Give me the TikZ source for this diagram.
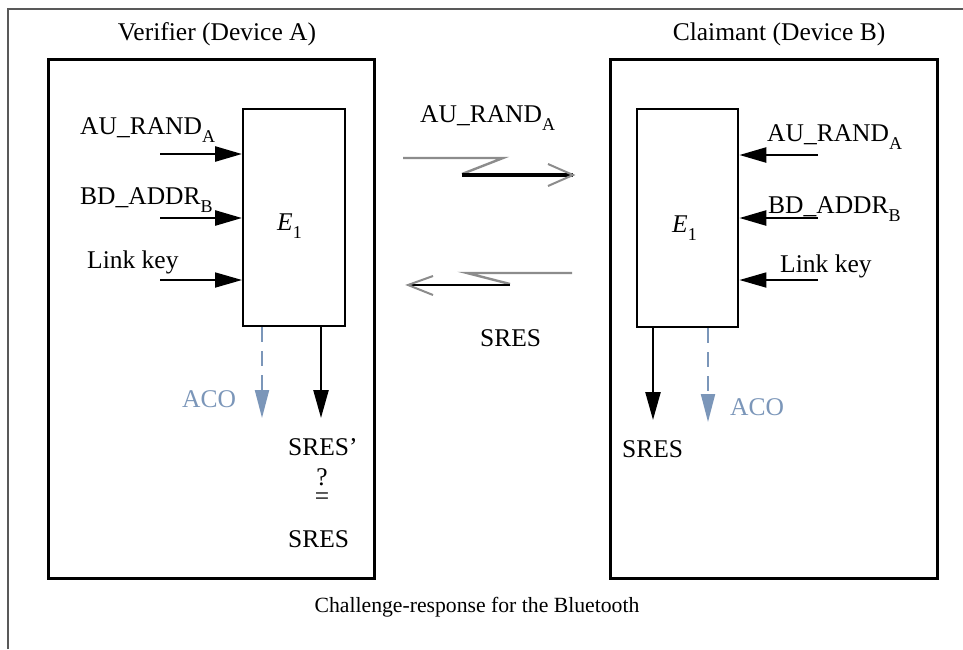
\documentclass[tikz,border=0pt]{standalone}
\usepackage{fontspec}
\setmainfont{Liberation Serif}
\usetikzlibrary{arrows.meta}
\definecolor{acoblue}{HTML}{7B96B9}
\newcommand\sbx[1]{\raisebox{-0.32em}{\fontsize{18}{18}\selectfont #1}}
\begin{document}
\begin{tikzpicture}[x=1pt,y=-1pt,
  lbl/.style={font=\fontsize{25.5}{30}\selectfont, inner sep=0pt, anchor=base west},
  acolbl/.style={lbl, text=acoblue},
  capt/.style={font=\fontsize{21.7}{26}\selectfont, inner sep=0pt, anchor=base},
  devbox/.style={draw, line width=2.6pt, anchor=north west, inner sep=0pt, minimum width=#1},
  ebox/.style={draw, line width=2.4pt, anchor=north west, inner sep=0pt, minimum width=#1},
  inarr/.style={line width=2.6pt, -{Triangle[length=27pt,width=15pt]}},
  inarrthin/.style={line width=1.8pt, -{Triangle[length=27pt,width=15pt]}},
  outarr/.style={line width=2.4pt, -{Triangle[length=28pt,width=15pt]}},
  acoarr/.style={draw=acoblue, line width=2pt, dash pattern=on 15pt off 9pt, -{Triangle[length=28pt,width=14pt]}},
  gline/.style={draw=black!45, line width=2.4pt},
  bline/.style={draw=black, line width=3.2pt},
  framel/.style={draw=black!65, line width=1.4pt}
]
\useasboundingbox (0,0) rectangle (963,649);
\fill[white] (0,0) rectangle (963,649);
\draw[framel] (8,649) -- (8,9) -- (963,9);

% titles
\node[lbl, anchor=base] (tA) at (217,40) {Verifier (Device A)};
\node[lbl, anchor=base] (tB) at (779,40) {Claimant (Device B)};

% device boxes
\node[devbox=326pt, minimum height=519pt] (devA) at (47,58) {};
\node[devbox=327pt, minimum height=519pt] (devB) at (609,58) {};

% E1 boxes
\node[ebox=102pt, minimum height=217pt] (eA) at (242,108) {};
\node[ebox=101pt, minimum height=218pt] (eB) at (636,108) {};
\node[lbl] (eAl) at (277,230) {\textit{E}\sbx{1}};
\node[lbl] (eBl) at (672,232) {\textit{E}\sbx{1}};

% left inputs
\node[lbl] (la1l) at (80,134) {AU\_RAND\sbx{A}};
\node[lbl] (la2l) at (80,204) {BD\_ADDR\sbx{B}};
\node[lbl] (la3l) at (87,268) {Link key};
\coordinate (la1) at (160,154);
\coordinate (la2) at (160,218);
\coordinate (la3) at (160,280);
\draw[inarr] (la1) -- (la1 -| eA.west);
\draw[inarr] (la2) -- (la2 -| eA.west);
\draw[inarrthin] (la3) -- (la3 -| eA.west);

% right inputs
\node[lbl] (rb1l) at (767,141) {AU\_RAND\sbx{A}};
\node[lbl] (rb2l) at (768,213) {BD\_ADDR\sbx{B}};
\node[lbl] (rb3l) at (780,272) {Link key};
\coordinate (rb1) at (818,155);
\coordinate (rb2) at (818,218);
\coordinate (rb3) at (818,280);
\draw[inarr] (rb1) -- (rb1 -| eB.east);
\draw[inarr] (rb2) -- (rb2 -| eB.east);
\draw[inarrthin] (rb3) -- (rb3 -| eB.east);

% left outputs
\coordinate (oA) at (321,418);
\coordinate (acoA) at (262,418);
\draw[outarr] (oA |- eA.south) -- (oA);
\draw[acoarr] (acoA |- eA.south) -- (acoA);
\node[acolbl] (acoAl) at (182,407) {ACO};
\node[lbl] (sresp) at (288,455) {SRES’};
\node[lbl, anchor=base] (cmp) at (322,504) {\shortstack{?\\[3pt]=}};
\node[lbl] (sresA) at (288,547) {SRES};

% right outputs
\coordinate (oB) at (653,420);
\coordinate (acoB) at (708,422);
\draw[outarr] (oB |- eB.south) -- (oB);
\draw[acoarr] (acoB |- eB.south) -- (acoB);
\node[acolbl] (acoBl) at (730,415) {ACO};
\node[lbl] (sresB) at (622,457) {SRES};

% middle exchange
\node[lbl] (mAU) at (420,122) {AU\_RAND\sbx{A}};
\coordinate (t1) at (403,158);
\coordinate (t2) at (503,158);
\coordinate (t3) at (462,174);
\coordinate (t4) at (573,175);
\coordinate (t5) at (548,164);
\coordinate (t6) at (548,186);
\draw[gline] (t1) -- (t2) -- (t3);
\draw[bline] (t3 |- t4) -- (t4);
\draw[gline, line width=2pt] (t5) -- (t4) -- (t6);

\coordinate (b1) at (572,273);
\coordinate (b2) at (467,273);
\coordinate (b3) at (510,284);
\coordinate (b4) at (408,285);
\coordinate (b5) at (433,276);
\coordinate (b6) at (433,295);
\draw[gline] (b1) -- (b2) -- (b3);
\draw[bline, line width=2.8pt] (b3 |- b4) -- (b4);
\draw[gline, line width=2pt] (b5) -- (b4) -- (b6);
\node[lbl] (mSRES) at (480,346) {SRES};

% caption
\node[capt] (cap) at (477,612) {Challenge-response for the Bluetooth};
\end{tikzpicture}
\end{document}
